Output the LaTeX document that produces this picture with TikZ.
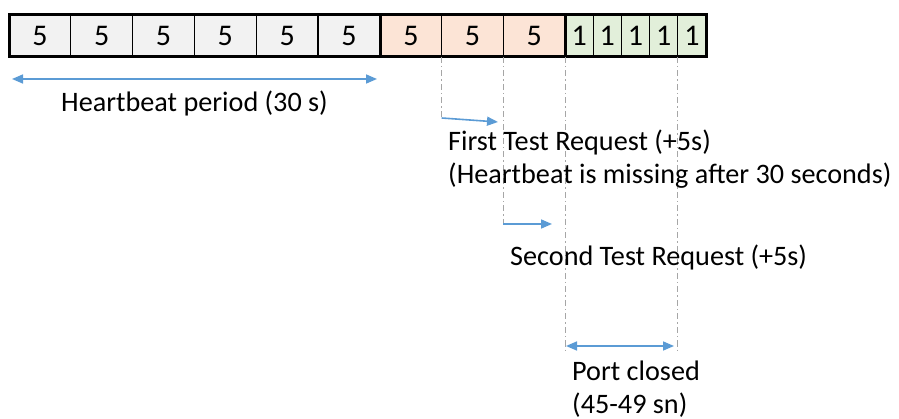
\documentclass[tikz,border=0pt]{standalone}
\usepackage{fontspec}
\setmainfont{Carlito}
\usetikzlibrary{arrows.meta,calc}
\definecolor{cgray}{HTML}{F2F2F2}
\definecolor{corange}{HTML}{FCE4D6}
\definecolor{cgreen}{HTML}{E2EFDA}
\definecolor{cblue}{HTML}{5B9BD5}
\definecolor{cdash}{HTML}{A6A6A6}
\tikzset{
  cell/.style={draw=black, line width=1.2pt, minimum height=42pt, inner sep=0pt, outer sep=0pt,
    font=\fontsize{30}{32}\selectfont, anchor=center},
  gcell/.style={cell, fill=cgray, minimum width=61.8pt},
  ocell/.style={cell, fill=corange, minimum width=61.7pt},
  ncell/.style={cell, fill=cgreen, minimum width=28.2pt},
  guide/.style={draw=cdash, line width=0.9pt, dash pattern=on 6pt off 3pt on 1.5pt off 3pt},
  barrow/.style={draw=cblue, line width=1.6pt, -{Triangle[length=11pt,width=9pt]}},
  bbarrow/.style={draw=cblue, line width=1.6pt, {Triangle[length=11pt,width=9pt]}-{Triangle[length=11pt,width=9pt]}},
  lbl/.style={anchor=west, inner sep=0pt, font=\fontsize{28.2}{32}\selectfont}
}
\begin{document}
\begin{tikzpicture}[x=1pt,y=-1pt]
\useasboundingbox (0,0) rectangle (899,419);
% cells
\foreach \i in {0,...,5} \node[gcell] (g\i) at ({39.9+61.8*\i},36) {5};
\foreach \i in {0,...,2} \node[ocell] (o\i) at ({410.85+61.7*\i},36) {5};
\foreach \i in {0,...,4} \node[ncell] (n\i) at ({579.1+28.2*\i},36) {1};
% thick outline and group dividers
\draw[line width=3pt] (g0.north west) rectangle (n4.south east);
\draw[line width=3pt] (o0.north west) -- (o0.south west);
\draw[line width=3pt] (n0.north west) -- (n0.south west);
% guide lines
\coordinate (d1) at (o0.south east |- 0,118);
\coordinate (d2) at (o1.south east |- 0,228);
\coordinate (d3) at (o2.south east |- 0,352);
\coordinate (d4) at (n3.south east |- 0,352);
\draw[guide] (o0.south east) -- (d1);
\draw[guide] (o1.south east) -- (d2);
\draw[guide] (o2.south east) -- (d3);
\draw[guide] (n3.south east) -- (d4);
% arrows
\coordinate (h1) at (12,79);
\coordinate (h2) at (377,79);
\draw[bbarrow] (h1) -- (h2);
\coordinate (a1e) at (498,122);
\draw[barrow] (d1) -- (a1e);
\coordinate (a2s) at (503,224);
\coordinate (a2e) at (552,224);
\draw[barrow] (a2s) -- (a2e);
\coordinate (p1) at (566,346);
\coordinate (p2) at (674,346);
\draw[bbarrow] (p1) -- (p2);
% labels
\node[lbl] (thb) at (61,103) {Heartbeat period (30 s)};
\node[lbl] (t1) at (448,142) {First Test Request (+5s)};
\node[lbl] (t2) at (448,176) {(Heartbeat is missing after 30 seconds)};
\node[lbl] (t3) at (510,257) {Second Test Request (+5s)};
\node[lbl] (t4) at (572,371) {Port closed};
\node[lbl] (t5) at (572,405) {(45-49 sn)};
\end{tikzpicture}
\end{document}
